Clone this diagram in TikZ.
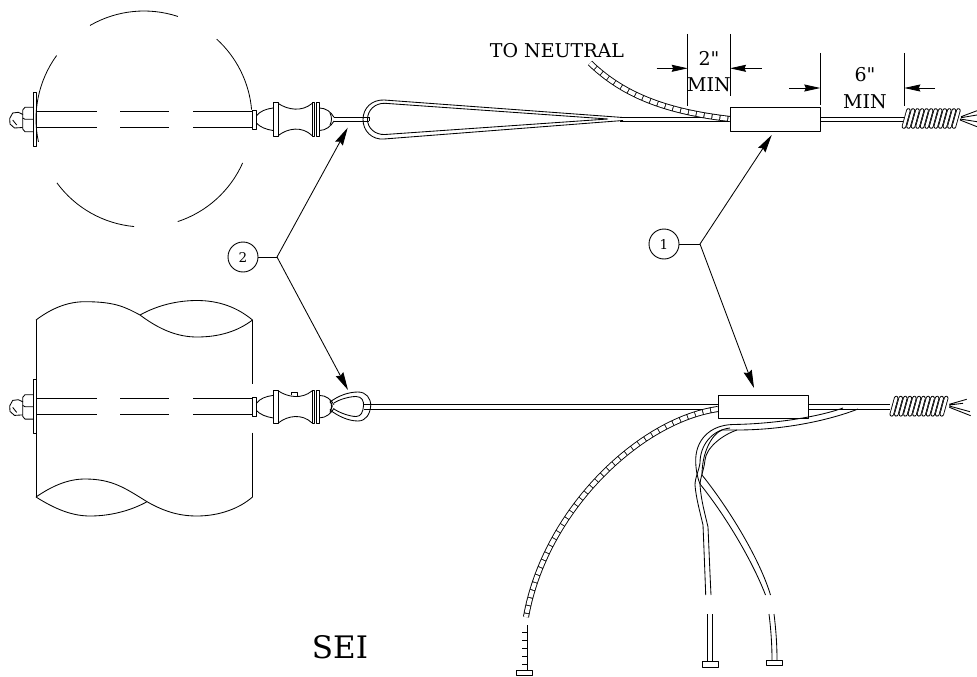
\documentclass[tikz,border=0pt]{standalone}
\usepackage{fontspec}
\setmainfont{DejaVu Serif}
\newfontfamily\plainserif{DejaVu Serif}
\usetikzlibrary{arrows.meta}
\tikzset{
 ln/.style={line width=0.85pt,line join=round},
 callout/.style={ln,-{Stealth[length=18pt,width=8.5pt,inset=2pt]}},
 dimarrow/.style={line width=0.8pt,-{Stealth[length=16pt,width=7pt,inset=1.5pt]}},
 bub/.style={circle,draw,line width=0.9pt,minimum size=30pt,inner sep=0pt,font=\fontsize{13.5}{13.5}\selectfont},
 lab/.style={inner sep=0pt,font=\plainserif\fontsize{19}{19}\selectfont},
 ladderb/.style={line width=6pt},
 ladderw/.style={line width=4.2pt,white,dash pattern=on 7pt off 1pt},
}
\newcommand{\boltasm}{%
 % washer, nut, screw end
 \draw[ln] (33.3,92.5) rectangle (36.3,146.3);
 \draw[ln] (33.3,107.3) -- (25,107.3) -- (22.7,110) -- (22.7,129) -- (25,131.7) -- (33.3,131.7);
 \draw[ln] (22.7,118) -- (25,119.3) -- (33.3,119.3);
 \draw[ln] (23,114.5) -- (18.3,112.3) -- (12.7,113) -- (9.7,118.5) -- (10,124) -- (14.5,128) -- (22.7,127.5);
 \draw[ln] (12.7,120) -- (16.7,125);
 % stud
 \foreach \yy in {111,127.5}{
  \draw[ln] (36.3,\yy) -- (96.7,\yy);
  \draw[ln] (120,\yy) -- (168.7,\yy);
  \draw[ln] (193,\yy) -- (252.5,\yy);
 }
 \draw[ln] (252.5,110) rectangle (256.3,129);
 % insulator
 \draw[ln] (256.3,116) .. controls (260,111) and (266,109) .. (273,108);
 \draw[ln] (256.3,123) .. controls (260,127) and (266,129.5) .. (273,130.5);
 \draw[ln] (273,102.7) rectangle (278.3,136);
 \draw[ln] (278.3,103.5) .. controls (288,110) and (302,112) .. (312,103.5);
 \draw[ln] (278.3,135.5) .. controls (288,128) and (302,126) .. (312,135.5);
 \draw[ln] (312,102.7) rectangle (314.7,136);
 \draw[ln] (316.8,102.7) rectangle (319.4,136);
 \draw[ln] (319.4,108) .. controls (326,108) and (331,112) .. (334,117.3);
 \draw[ln] (319.4,130.5) .. controls (326,130.5) and (331,126) .. (334,121);
 \draw[ln] (330,113) .. controls (332,117) and (332,121) .. (330,125);
}
\newcommand{\coilasm}[3]{% x0, ytop, ybottom
 \foreach \i in {0,...,11}{
  \draw[line width=4.4pt,line cap=round] ({#1+2.2+\i*4.55},#3) -- ({#1+6.7+\i*4.55},#2);
  \draw[line width=2.7pt,line cap=round,white] ({#1+2.2+\i*4.55},#3) -- ({#1+6.7+\i*4.55},#2);
 }
}
\begin{document}
\begin{tikzpicture}[x=1pt,y=-1pt]
\useasboundingbox (0,0) rectangle (977,677);
% ---- upper pole (circle)
\coordinate (pc) at (144,119);
\foreach \a/\b in {-120/-71.7,-47.7/-5,24/71.8,95.3/143.7,167.8/216}{
 \draw[ln,line width=0.8pt] (pc) ++(\a:108) arc[start angle=\a,end angle=\b,radius=108];
}
\boltasm
\draw[ln] (334,117.3) -- (369,117.3) (334,121) -- (369,121) (369,117.3) -- (369,121);
% eye, upper
\draw[ln] (623,117.5) -- (384,100) .. controls (372,99.5) and (363,108) .. (363,119.5) .. controls (363,131) and (372,140) .. (384,139) -- (623,120.5);
\draw[ln] (608,119) -- (385,103.3) .. controls (375,103) and (367.5,110) .. (367.5,119.5) .. controls (367.5,128) and (375,135) .. (385,134.5) -- (608,119);
% upper messenger
\draw[ln] (620,117.3) -- (730,117.3) (620,121) -- (730,121);
\draw[ln] (820,117.3) -- (905,117.3) (820,121) -- (905,121);
% neutral
\draw[ladderb] (590,63) .. controls (625,97) and (670,112) .. (730,119);
\draw[ladderw] (590,63) .. controls (625,97) and (670,112) .. (730,119);
\node[draw,ln,fill=white,inner sep=0pt,minimum width=90.5pt,minimum height=23.5pt] (boxa) at (775.3,119.4) {};
\coilasm{901.7}{110.4}{126.6}
\draw[ln] (961,116.7) -- (977,110.7) (961,117.7) -- (977,115) (960,119) -- (977,121.7) (960,120) -- (977,126.7);
% dimensions
\coordinate (da) at (687.7,34); \coordinate (db) at (687.7,105.7);
\coordinate (dc) at (730,34);  \coordinate (dd) at (730,96);
\coordinate (de) at (820.3,53); \coordinate (df) at (820.3,105);
\coordinate (dg) at (904.3,53); \coordinate (dh) at (904.3,106);
\draw[ln] (da) -- (db) (dc) -- (dd) (de) -- (df) (dg) -- (dh);
\coordinate (t1) at (656.7,68.3); \coordinate (t1e) at (687.7,68.3);
\coordinate (t2) at (761.7,68.3); \coordinate (t2e) at (730,68.3);
\coordinate (t3) at (789,88); \coordinate (t3e) at (820.3,88);
\coordinate (t4) at (935,88); \coordinate (t4e) at (904.3,88);
\draw[dimarrow] (t1) -- (t1e);
\draw[dimarrow] (t2) -- (t2e);
\draw[dimarrow] (t3) -- (t3e);
\draw[dimarrow] (t4) -- (t4e);
\node[lab] (d2) at (709,58) {2"};
\node[lab] (m2) at (709,84.5) {MIN};
\node[lab] (d6) at (865,75) {6"};
\node[lab] (m6) at (865,102) {MIN};
\node[lab] (neu) at (557,51) {TO NEUTRAL};
% ---- lower pole
\draw[line width=0.9pt] (36,320) -- (36,497);
\draw[ln] (252.5,320) -- (252.5,384) (252.5,432.7) -- (252.5,497);
\draw[ln] (36,320) .. controls (52,308) and (68,301.7) .. (85,301.7) .. controls (115,301.7) and (125,307) .. (140,315) .. controls (160,330) and (178,337) .. (197,337) .. controls (220,337) and (238,331) .. (252.5,320);
\draw[ln] (140,315) .. controls (158,305) and (178,300.5) .. (197,300.5) .. controls (220,300.5) and (238,308) .. (252.5,320);
\draw[ln] (36,497) .. controls (52,486) and (68,479) .. (85,479) .. controls (112,479) and (125,488) .. (147,501.7) .. controls (165,512) and (180,516) .. (197,516) .. controls (220,516) and (240,508) .. (252.5,497);
\draw[ln] (36,497) .. controls (55,509) and (72,516) .. (90,516) .. controls (112,516) and (132,510) .. (147,501.7);
\begin{scope}[shift={(0,287.4)}]
 \boltasm
 \draw[ln] (291,108) -- (291,104.6) -- (297,104.6) -- (297,109);
\end{scope}
% lower eye
\draw[ln] (330,402) .. controls (338,396) and (348,392) .. (358,392) .. controls (366,392) and (371,398) .. (370.7,406) .. controls (370,414) and (366,421) .. (358,421) .. controls (348,421) and (338,416) .. (330,410);
\draw[ln] (334,403) .. controls (340,399) and (350,396.5) .. (356,396.5) .. controls (362,396.5) and (364,401) .. (363.5,406) .. controls (363,412) and (361,416.5) .. (356,416.5) .. controls (350,416.5) and (340,413) .. (334,409);
\draw[ln] (330,402) .. controls (333,404) and (333,408) .. (330,410);
% lower messenger
\draw[ln] (364,404.8) -- (890,404.8) (364,409.2) -- (890,409.2);
% lower neutral
\draw[ladderb] (718,409) .. controls (640,420) and (545,510) .. (526,617);
\draw[ladderw] (718,409) .. controls (640,420) and (545,510) .. (526,617);
\draw[ladderb] (524.5,625) -- (524.5,670);
\draw[ladderw] (524.5,625) -- (524.5,670);
\node[draw,ln,fill=white,inner sep=0pt,minimum width=90pt,minimum height=23pt] (boxb) at (763.3,406.8) {};
\coilasm{889.5}{398}{414.4}
\draw[ln] (949.3,404.3) -- (966.7,399.3) (949.3,405) -- (963,403.3) (949.3,406) -- (970,411.7) (949.3,407.3) -- (970.7,415.7);
% branch wires
\draw[ln] (843,408) .. controls (815,418) and (770,424) .. (733,424.5) .. controls (710,425) and (695,440) .. (695.7,462) .. controls (696,472) and (698,479) .. (700,484) .. controls (725,515) and (752,560) .. (765.5,595);
\draw[ln] (858,409) .. controls (830,420) and (785,430) .. (737,430) -- (722,430) .. controls (712,434) and (702,452) .. (702,475) .. controls (730,510) and (760,560) .. (770.5,595);
\draw[ln] (730,428) .. controls (712,430) and (700,445) .. (700,463) .. controls (699,470) and (695,478) .. (695,485) .. controls (696,498) and (700,512) .. (703,525) .. controls (704,550) and (705,575) .. (705.7,595);
\draw[ln] (737,430) .. controls (722,435) and (706,448) .. (705,460) .. controls (704,470) and (700,478) .. (700,485) .. controls (701,500) and (705,514) .. (708,527) .. controls (709,550) and (710,575) .. (711,595);
% feet
\draw[ln] (707.3,614) -- (707.3,661) (712.3,614) -- (712.3,661);
\draw[ln] (769,614) .. controls (771,630) and (772,645) .. (772,660);
\draw[ln] (774,614) .. controls (776,630) and (777,645) .. (777,660);
\draw[ln,fill=white] (516.5,670.5) rectangle (532.5,675.8);
\draw[ln,fill=white] (702,661.5) rectangle (718,667);
\draw[ln,fill=white] (766,660.3) rectangle (782,665.8);
% callouts
\node[bub] (c2) at (243,257) {2};
\coordinate (j2) at (277,257);
\coordinate (p2a) at (347.7,127.7);
\coordinate (p2b) at (348,390);
\draw[ln] (c2) -- (j2);
\draw[callout] (j2) -- (p2a);
\draw[callout] (j2) -- (p2b);
\node[bub] (c1) at (664,244) {1};
\coordinate (j1) at (700,244);
\coordinate (p1a) at (771.7,135);
\coordinate (p1b) at (754,388);
\draw[ln] (c1) -- (j1);
\draw[callout] (j1) -- (p1a);
\draw[callout] (j1) -- (p1b);
\node[inner sep=0pt,font=\plainserif\fontsize{31}{31}\selectfont] (sei) at (340,647) {SEI};
\end{tikzpicture}
\end{document}
